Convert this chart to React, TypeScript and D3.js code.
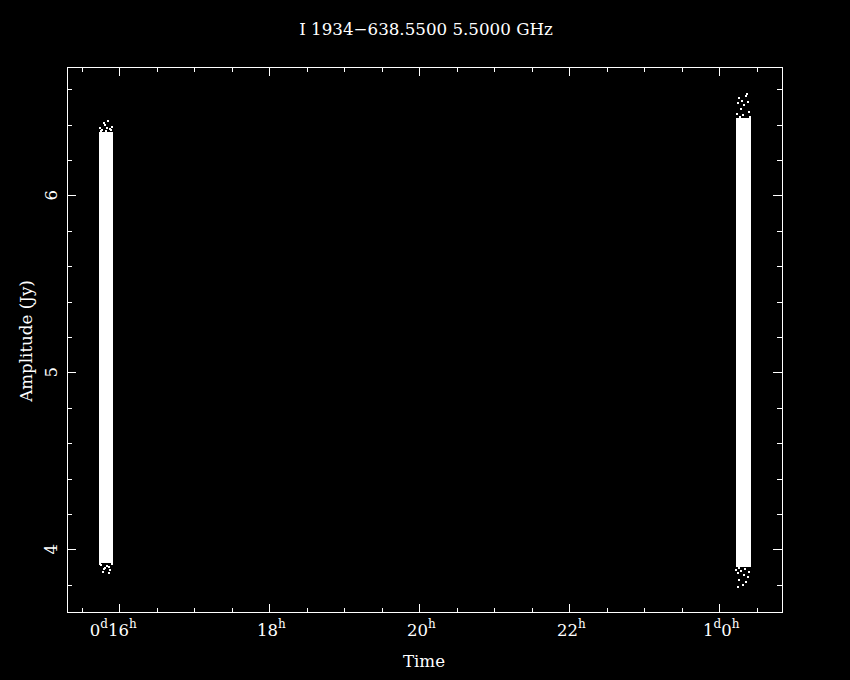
import React, { useEffect, useRef } from 'react';
import * as d3 from 'd3';

// Scan blocks: time in hours from day 0, amplitude of the dense core in Jy
const scanStart = [15.733, 24.223];
const scanEnd = [15.912, 24.42];
const coreLow = [3.925, 3.9];
const coreHigh = [6.357, 6.436];

// Sparse points outside the dense core [hour, Jy]
const outlierTime = [
  15.853, 15.8, 15.813, 15.903, 15.743, 15.836, 15.876, 15.77, 15.89, 15.823, 15.757,
  15.779, 15.867, 15.809, 15.88, 15.752, 15.832, 15.79, 15.86, 15.9, 15.74,
  24.259, 24.356, 24.303, 24.379, 24.245, 24.333, 24.369, 24.29, 24.4, 24.235, 24.31, 24.41, 24.27,
  24.245, 24.333, 24.379, 24.267, 24.356, 24.245, 24.312, 24.29, 24.4, 24.228, 24.34, 24.26,
];
const outlierAmp = [
  6.421, 6.407, 6.395, 6.386, 6.38, 6.383, 6.375, 6.37, 6.368, 6.364, 6.366,
  3.873, 3.864, 3.896, 3.883, 3.911, 3.906, 3.89, 3.9, 3.915, 3.918,
  6.548, 6.563, 6.534, 6.529, 6.52, 6.51, 6.573, 6.49, 6.47, 6.46, 6.455, 6.445, 6.443,
  3.864, 3.855, 3.845, 3.827, 3.817, 3.789, 3.798, 3.88, 3.87, 3.885, 3.89, 3.893,
];

const xMajorHours = [16, 18, 20, 22, 24];
const xTickDay = ['0', '', '', '', '1'];
const xTickHour = ['16', '18', '20', '22', '0'];
const yMajor = [4, 5, 6];
const yTickLabels = ['4', '5', '6'];

const titleText = 'I 1934\u2212638.5500 5.5000 GHz';

const W = 850;
const H = 680;
const FONT = '"DejaVu Serif", "Liberation Serif", serif';

export default function App() {
  const svgRef = useRef<SVGSVGElement>(null);

  useEffect(() => {
    if (!svgRef.current) return;
    const svg = d3.select(svgRef.current);
    svg.selectAll('*').remove();

    const left = 67, right = 781.5, top = 67, bottom = 612;

    const x = d3.scaleLinear().domain([15.3027, 24.8293]).range([left, right]);
    const y = d3.scaleLinear().domain([3.646, 6.725]).range([bottom, top]);

    svg.append('rect').attr('width', W).attr('height', H).attr('fill', '#000');

    // Title
    svg.append('text')
      .attr('x', 426).attr('y', 35)
      .attr('text-anchor', 'middle')
      .attr('fill', '#fff')
      .attr('font-family', FONT)
      .attr('font-size', 16.7)
      .text(titleText);

    const g = svg.append('g').attr('shape-rendering', 'crispEdges');

    // Data: dense scan cores
    g.selectAll('rect.core')
      .data(scanStart.map((s, i) => ({ s, e: scanEnd[i], lo: coreLow[i], hi: coreHigh[i] })))
      .enter()
      .append('rect')
      .attr('class', 'core')
      .attr('x', d => x(d.s))
      .attr('width', d => x(d.e) - x(d.s))
      .attr('y', d => y(d.hi))
      .attr('height', d => y(d.lo) - y(d.hi))
      .attr('fill', '#fff');

    // Sparse points
    g.selectAll('rect.pt')
      .data(outlierTime.map((t, i) => ({ t, a: outlierAmp[i] })))
      .enter()
      .append('rect')
      .attr('class', 'pt')
      .attr('x', d => x(d.t) - 1)
      .attr('y', d => y(d.a) - 1)
      .attr('width', 2)
      .attr('height', 2)
      .attr('fill', '#fff');

    // Frame
    g.append('rect')
      .attr('x', left + 0.5).attr('y', top + 0.5)
      .attr('width', right - left).attr('height', bottom - top)
      .attr('fill', 'none').attr('stroke', '#fff').attr('stroke-width', 1);

    const major = 8.5, minor = 4.5;
    const xMinor = d3.range(15.5, 24.81, 0.5).filter(h => !xMajorHours.includes(h));
    const yMinor = d3.range(3.8, 6.72, 0.2).map(v => +v.toFixed(1)).filter(v => !yMajor.includes(v));

    const tick = (x1: number, y1: number, x2: number, y2: number) =>
      g.append('line').attr('x1', x1).attr('y1', y1).attr('x2', x2).attr('y2', y2)
        .attr('stroke', '#fff').attr('stroke-width', 1);

    xMajorHours.forEach(h => {
      const px = Math.round(x(h)) + 0.5;
      tick(px, bottom, px, bottom - major);
      tick(px, top, px, top + major);
    });
    xMinor.forEach(h => {
      const px = Math.round(x(h)) + 0.5;
      tick(px, bottom, px, bottom - minor);
      tick(px, top, px, top + minor);
    });
    yMajor.forEach(v => {
      const py = Math.round(y(v)) + 0.5;
      tick(left, py, left + major, py);
      tick(right, py, right - major, py);
    });
    yMinor.forEach(v => {
      const py = Math.round(y(v)) + 0.5;
      tick(left, py, left + minor, py);
      tick(right, py, right - minor, py);
    });

    // X tick labels with superscript d / h
    xMajorHours.forEach((h, i) => {
      const t = svg.append('text')
        .attr('x', x(h) + (i === 0 ? -6 : 2))
        .attr('y', 636)
        .attr('text-anchor', 'middle')
        .attr('fill', '#fff')
        .attr('font-family', FONT)
        .attr('font-size', 16.5);
      if (xTickDay[i]) {
        t.append('tspan').text(xTickDay[i]);
        t.append('tspan').attr('dy', -8.5).attr('font-size', 12).text('d');
        t.append('tspan').attr('dy', 8.5).text(xTickHour[i]);
      } else {
        t.append('tspan').text(xTickHour[i]);
      }
      t.append('tspan').attr('dy', -8.5).attr('font-size', 12).text('h');
    });

    // Y tick labels, rotated
    yMajor.forEach((v, i) => {
      svg.append('text')
        .attr('transform', `translate(57, ${y(v)}) rotate(-90)`)
        .attr('text-anchor', 'middle')
        .attr('fill', '#fff')
        .attr('font-family', FONT)
        .attr('font-size', 16.5)
        .text(yTickLabels[i]);
    });

    // Axis titles
    svg.append('text')
      .attr('x', 424).attr('y', 667)
      .attr('text-anchor', 'middle')
      .attr('fill', '#fff')
      .attr('font-family', FONT)
      .attr('font-size', 16.7)
      .text('Time');

    svg.append('text')
      .attr('transform', `translate(32, 341) rotate(-90)`)
      .attr('text-anchor', 'middle')
      .attr('fill', '#fff')
      .attr('font-family', FONT)
      .attr('font-size', 16.7)
      .text('Amplitude (Jy)');
  }, []);

  return (
    <svg
      ref={svgRef}
      width={W}
      height={H}
      style={{ position: 'fixed', left: 0, top: 0, background: '#000' }}
    />
  );
}
